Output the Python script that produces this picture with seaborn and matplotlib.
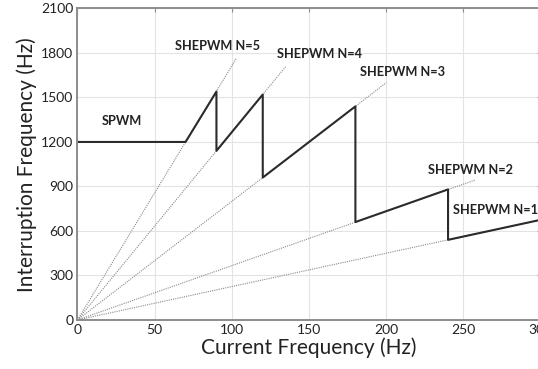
import numpy as np
import pandas as pd
import matplotlib
matplotlib.use("Agg")
import matplotlib.pyplot as plt
import seaborn as sns

# 主折线：中断频率随电流频率变化
cur_freq = [0, 70, 90, 90, 120, 120, 180, 180, 240, 240, 300]
int_freq = [1200, 1200, 1540, 1140, 1520, 960, 1440, 660, 880, 540, 675]

# 虚线射线（从原点出发）的终点
ray_names = ["N=1", "N=2", "N=3", "N=4", "N=5"]
ray_x_end = [300, 258, 200, 135, 103]
ray_y_end = [675, 945, 1600, 1710, 1765]

# 文字标注
label_text = ["SPWM", "SHEPWM N=5", "SHEPWM N=4", "SHEPWM N=3", "SHEPWM N=2", "SHEPWM N=1"]
label_x = [16, 63, 129, 183, 227, 243.5]
label_y = [1338, 1850, 1795, 1673, 1008, 743]

x_ticks = [0, 50, 100, 150, 200, 250, 300]
y_ticks = [0, 300, 600, 900, 1200, 1500, 1800, 2100]

sns.set_theme(style="whitegrid")
plt.rcParams['font.family'] = ['Lato', 'DejaVu Sans']

fig = plt.figure(figsize=(5.38, 3.69), dpi=100)
ax = fig.add_axes([0.144, 0.133, 0.861, 0.844])

for xe, ye in zip(ray_x_end, ray_y_end):
    sns.lineplot(x=[0, xe], y=[0, ye], ax=ax, color="#8a8a8a",
                 linewidth=0.8, linestyle=(0, (1, 1)), sort=False, estimator=None)

sns.lineplot(x=cur_freq, y=int_freq, ax=ax, color="#2b2b2b",
             linewidth=1.5, sort=False, estimator=None)

for t, x, y in zip(label_text, label_x, label_y):
    ax.text(x, y, t, fontsize=9.2, fontweight="bold", color="#222222",
            ha="left", va="center", clip_on=False)

ax.set_xlim(0, 300)
ax.set_ylim(0, 2100)
ax.set_xticks(x_ticks)
ax.set_yticks(y_ticks)
ax.set_facecolor("white")
ax.grid(True, color="#e3e3e3", linewidth=0.8)
for s in ax.spines.values():
    s.set_color("#8c8c8c")
    s.set_linewidth(1.4)
ax.tick_params(direction="in", length=3, width=0.8, color="#8c8c8c",
               top=True, right=True, labelsize=10, labelcolor="#222222", pad=3)
ax.set_xlabel("Current Frequency (Hz)", fontsize=15, color="#222222", labelpad=1)
ax.set_ylabel("Interruption Frequency (Hz)", fontsize=15, color="#222222", labelpad=3)

fig.savefig("out.png", dpi=100)
